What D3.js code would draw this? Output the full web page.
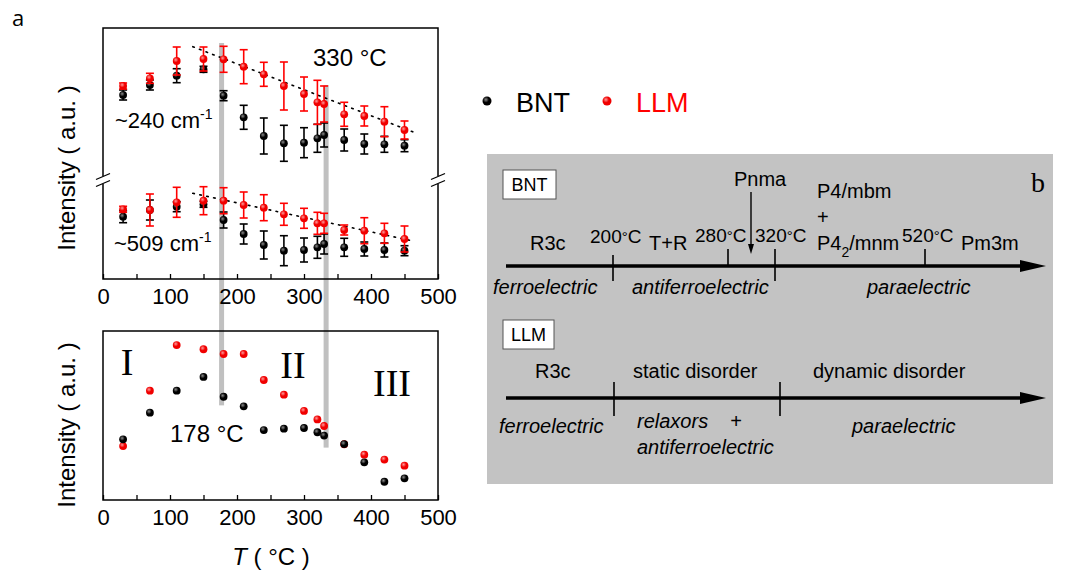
<!DOCTYPE html>
<html><head><meta charset="utf-8">
<script src="https://cdn.jsdelivr.net/npm/d3@7"></script>
<style>body{margin:0;background:#fff}svg{display:block;font-family:"Liberation Sans",Arial,sans-serif}</style>
</head><body>
<svg id="c" width="1067" height="577"></svg>
<script>
// ---------- data ----------
const temps = [30,70,110,150,180,210,240,270,300,320,330,360,390,420,450];
const bnt240 = [184,194,203.3,209.7,183.3,161.7,143,135.7,136.3,140.7,144,139,135,134.7,133.3];
const bnt240Err = [5,5,7,3,5,12,18,18,15,14,12,11,10,8,6];
const llm240 = [193,200.7,218,220,219.7,212.3,204.7,193,185,176.7,175,164.7,163,157.3,149];
const llm240Err = [3,5,14,12,13,17,12,24,17,22,18,12,10,15,9];
const bnt509 = [62.3,69,72.3,74.7,59,45,34,28.3,29,31.7,35,31.7,30,29,28.3];
const bnt509Err = [6,10,5,3,8,10,14,15,12,11,10,9,7,7,5];
const llm509 = [69.7,69,76.7,78.3,78.3,74,71.3,64.7,60.7,55.7,55.7,49,48.3,45.7,40];
const llm509Err = [3,16,15,14,13,13,13,11,10,11,10,5,13,10,13];
const fit240 = [[134,232.3],[463,147]];
const fit509 = [[134,85.7],[463,38]];
const bntBottom = [35.9,51.7,64.7,72.8,61.1,55.4,41.4,42.2,42.6,40.1,38.1,33.1,22.3,10.8,12.8];
const llmBottom = [31.9,64.7,91.7,89.2,86.4,86.4,71.0,62.3,52.7,47.7,43.8,33,26.8,23.9,20.3];
const transitions = [{T:177, top:236, bottom:56}, {T:333, top:194, bottom:31}];
const xTickValues = [0,50,100,150,200,250,300,350,400,450,500];
const xLabelValues = [0,100,200,300,400,500];
const regionLabels = ["I","II","III"];
const legendItems = [{name:"BNT", color:"#000"},{name:"LLM", color:"#ff0000"}];
const bntPhases = ["R3c","T+R","Pm3m"];
const bntTemps = ["200","280","320","520"];
const bntProps = ["ferroelectric","antiferroelectric","paraelectric"];
const llmPhases = ["R3c","static disorder","dynamic disorder"];
const llmProps = ["ferroelectric","paraelectric"];

// ---------- setup ----------
const svg = d3.select("#c");
const defs = svg.append("defs");
function grad(id, hi, base){
  const g = defs.append("radialGradient").attr("id",id).attr("cx","38%").attr("cy","35%").attr("r","60%");
  g.append("stop").attr("offset","0%").attr("stop-color",hi);
  g.append("stop").attr("offset","55%").attr("stop-color",base);
  g.append("stop").attr("offset","100%").attr("stop-color",base);
}
grad("gBlack","#8a8a8a","#000");
grad("gRed","#ff9a9a","#f00000");

const L = 103, R = 438, T1 = 28, B1 = 279, T2 = 331, B2 = 500;
const x = d3.scaleLinear().domain([0,500]).range([L,R]);
const yTop = d3.scaleLinear().domain([0,250]).range([B1,B1-250]);
const yBot = d3.scaleLinear().domain([0,100]).range([B2,T2]);
const serif = "'Liberation Serif','Times New Roman',serif";

// gray transition bars (behind)
svg.append("g").selectAll("rect").data(transitions).join("rect")
  .attr("x",d=>x(d.T)-2.5).attr("width",5)
  .attr("y",d=>yTop(d.top)).attr("height",d=>yBot(d.bottom)-yTop(d.top))
  .attr("fill","#c0c0c0");

// frames
[[T1,B1],[T2,B2]].forEach(([t,b])=>{
  svg.append("rect").attr("x",L).attr("y",t).attr("width",R-L).attr("height",b-t)
    .attr("fill","none").attr("stroke","#000").attr("stroke-width",1.5);
});

// x axes
function xAxis(yPos){
  const g = svg.append("g").attr("transform",`translate(0,${yPos})`)
    .call(d3.axisBottom(x).tickValues(xTickValues).tickSizeInner(-5).tickSizeOuter(0)
      .tickFormat(d=>xLabelValues.includes(d)?d:""));
  g.attr("font-family",null).attr("font-size",null);
  g.select(".domain").remove();
  g.selectAll(".tick line").attr("stroke","#000").attr("stroke-width",1.3);
  g.selectAll(".tick text").style("font-size","22px").attr("fill","#000")
    .style("font-family","'Liberation Sans',Arial,sans-serif").attr("dy","0.3em").attr("y",18);
}
xAxis(B1); xAxis(B2);

// break marks
const brY = 180;
[L,R].forEach(bx=>{
  svg.append("rect").attr("x",bx-3).attr("y",brY-4).attr("width",6).attr("height",8).attr("fill","#fff");
  [-3.5,3.5].forEach(o=>{
    svg.append("line").attr("x1",bx-7).attr("y1",brY+o+3).attr("x2",bx+7).attr("y2",brY+o-3)
      .attr("stroke","#000").attr("stroke-width",1.3);
  });
});

// dotted fits
const line = d3.line().x(d=>x(d[0])).y(d=>yTop(d[1]));
[fit240,fit509].forEach(f=>{
  svg.append("path").attr("d",line(f)).attr("fill","none").attr("stroke","#000")
    .attr("stroke-width",1.6).attr("stroke-dasharray","1.6,5.5").attr("stroke-linecap","round");
});

// error-bar series
function errSeries(vals, errs, color, gradId){
  const g = svg.append("g");
  const data = temps.map((t,i)=>({t, v:vals[i], e:errs[i]}));
  const eb = g.selectAll("g.eb").data(data).join("g").attr("stroke",color).attr("stroke-width",1.6);
  eb.append("line").attr("x1",d=>x(d.t)).attr("x2",d=>x(d.t)).attr("y1",d=>yTop(d.v+d.e)).attr("y2",d=>yTop(d.v-d.e));
  eb.append("line").attr("x1",d=>x(d.t)-4).attr("x2",d=>x(d.t)+4).attr("y1",d=>yTop(d.v+d.e)).attr("y2",d=>yTop(d.v+d.e));
  eb.append("line").attr("x1",d=>x(d.t)-4).attr("x2",d=>x(d.t)+4).attr("y1",d=>yTop(d.v-d.e)).attr("y2",d=>yTop(d.v-d.e));
  g.selectAll("circle").data(data).join("circle").attr("cx",d=>x(d.t)).attr("cy",d=>yTop(d.v))
    .attr("r",3.9).attr("fill",`url(#${gradId})`);
}
errSeries(bnt240,bnt240Err,"#000","gBlack");
errSeries(llm240,llm240Err,"#ff0000","gRed");
errSeries(bnt509,bnt509Err,"#000","gBlack");
errSeries(llm509,llm509Err,"#ff0000","gRed");

// bottom panel points
function pts(vals, gradId){
  svg.append("g").selectAll("circle").data(temps.map((t,i)=>({t,v:vals[i]}))).join("circle")
    .attr("cx",d=>x(d.t)).attr("cy",d=>yBot(d.v)).attr("r",3.9).attr("fill",`url(#${gradId})`);
}
pts(llmBottom,"gRed");
pts(bntBottom,"gBlack");

// texts left
function txt(s, xx, yy, size, opts={}){
  const t = svg.append("text").attr("x",xx).attr("y",yy).style("font-size",size+"px").attr("fill",opts.fill||"#000");
  if(opts.anchor) t.attr("text-anchor",opts.anchor);
  if(opts.family) t.style("font-family",opts.family);
  if(opts.italic) t.style("font-style","italic");
  t.text(s);
  return t;
}
txt("a",12,26,22,{family:"'Open Sans',sans-serif"});
txt("330 °C",313,66,24);
const w1 = txt("~240 cm",115,128,22); w1.append("tspan").style("font-size","14px").attr("dy",-9).text("-1");
const w2 = txt("~509 cm",114,251,22); w2.append("tspan").style("font-size","14px").attr("dy",-9).text("-1");
txt("178 °C",170,442,24);
txt(regionLabels[0],127,375,38,{family:serif,anchor:"middle"});
txt(regionLabels[1],293,378,38,{family:serif,anchor:"middle"});
txt(regionLabels[2],392,396,38,{family:serif,anchor:"middle"});
// y labels
[168,425].forEach(cy=>{
  svg.append("text").attr("transform",`translate(75,${cy}) rotate(-90)`).attr("text-anchor","middle")
    .style("font-size","24px").text("Intensity ( a.u. )");
});
// x title
const xt = svg.append("text").attr("x",271).attr("y",565).attr("text-anchor","middle").style("font-size","24px");
xt.append("tspan").style("font-style","italic").text("T");
xt.append("tspan").text(" ( °C )");

// legend
const lg = svg.append("g").selectAll("g").data(legendItems).join("g")
  .attr("transform",(d,i)=>`translate(${487+i*120},101)`);
lg.append("circle").attr("r",4.5).attr("fill",(d,i)=>i?"url(#gRed)":"url(#gBlack)");
lg.append("text").attr("x",29).attr("y",11).style("font-size","27px").attr("fill",d=>d.color).text(d=>d.name);

// ---------- panel b ----------
const pb = svg.append("g");
pb.append("rect").attr("x",487).attr("y",154).attr("width",566).attr("height",330).attr("fill","#c3c3c3");
function box(label, bx, by, w, h){
  pb.append("rect").attr("x",bx).attr("y",by).attr("width",w).attr("height",h).attr("fill","#fff")
    .attr("stroke","#555").attr("stroke-width",1);
  pb.append("text").attr("x",bx+w/2).attr("y",by+h/2+6).attr("text-anchor","middle").style("font-size","18px").text(label);
}
box("BNT",503,170,53,29);
box("LLM",503,320,51,29);
pb.append("text").attr("x",1031).attr("y",192).style("font-size","28px").style("font-family",serif).text("b");
function arrowAxis(yy){
  pb.append("line").attr("x1",506).attr("x2",1024).attr("y1",yy).attr("y2",yy).attr("stroke","#000").attr("stroke-width",3.6);
  pb.append("path").attr("d",`M1020,${yy-6} L1046,${yy} L1020,${yy+6} Z`).attr("fill","#000");
}
arrowAxis(266); arrowAxis(398);
function vtick(xx,y1,y2){ pb.append("line").attr("x1",xx).attr("x2",xx).attr("y1",y1).attr("y2",y2).attr("stroke","#000").attr("stroke-width",1.6); }
vtick(613,255,281); vtick(728,249,266); vtick(775,249,281); vtick(925,249,266);
vtick(614,382,416); vtick(780,382,416);
function ptxt(s,xx,yy,size,italic){
  const t = pb.append("text").attr("x",xx).attr("y",yy).style("font-size",size+"px").text(s);
  if(italic) t.style("font-style","italic");
  return t;
}
// BNT row
ptxt(bntPhases[0],530,250,20); ptxt(bntPhases[1],649,250,20); ptxt(bntPhases[2],961,250,20);
[[bntTemps[0],590,243],[bntTemps[1],695,242],[bntTemps[2],755,242],[bntTemps[3],902,242]].forEach(([s,xx,yy])=>{
  const t = ptxt(s,xx,yy,19);
  t.append("tspan").style("font-size","15px").attr("dy",-1).text("°");
  t.append("tspan").attr("dy",1).text("C");
});
ptxt("Pnma",734,186,20);
pb.append("line").attr("x1",751).attr("x2",751).attr("y1",192).attr("y2",246).attr("stroke","#000").attr("stroke-width",1.4);
pb.append("path").attr("d","M748,244 L751,254 L754,244 Z").attr("fill","#000");
ptxt("P4/mbm",817,198,20);
ptxt("+",817,224,20);
const p42 = ptxt("P4",817,250,20);
p42.append("tspan").style("font-size","14px").attr("dy",7).text("2");
p42.append("tspan").attr("dy",-7).text("/mnm");
ptxt(bntProps[0],493,294,20,true); ptxt(bntProps[1],632,294,20,true); ptxt(bntProps[2],867,294,20,true);
// LLM row
ptxt(llmPhases[0],535,378,20); ptxt(llmPhases[1],633,378,20); ptxt(llmPhases[2],813,378,20);
ptxt(llmProps[0],499,433,20,true);
ptxt("relaxors",637,428,20,true);
ptxt("+",730,428,20,true);
ptxt("antiferroelectric",637,454,20,true);
ptxt(llmProps[1],852,433,20,true);
</script>
</body></html>
